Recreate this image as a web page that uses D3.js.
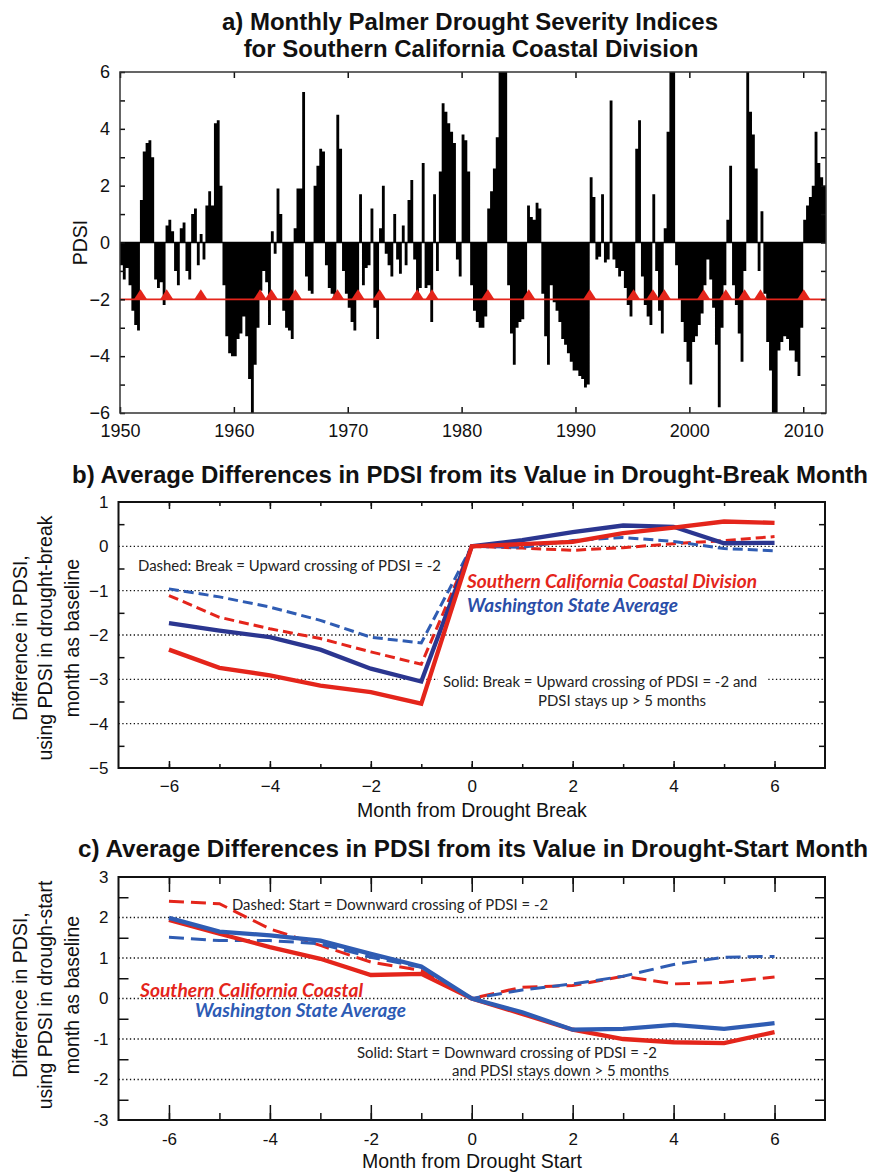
<!DOCTYPE html>
<html>
<head>
<meta charset="utf-8">
<title>PDSI Southern California Coastal Division</title>
<script src="https://d3js.org/d3.v7.min.js"></script>
<style type="text/css">
  body { margin: 0; background: #fff; }
  svg text { font-family: "Liberation Sans", Arial, Helvetica, sans-serif; fill: #111; }
  .title { font-weight: bold; font-size: 24px; }
  .axis-title { font-size: 19.5px; }
  .note { font-family: Lato, "Noto Sans", sans-serif; font-size: 14.5px; }
  .legend { font-family: Lato, "Noto Sans", sans-serif; font-weight: bold; font-style: italic; font-size: 18px; }
  .grid { stroke: #111; stroke-width: 1.3px; stroke-dasharray: 1.3,2.5; }
  .tick line { stroke: #111; stroke-width: 1.5px; }
</style>
</head>
<body>
<div id="chart"></div>
<script type="text/javascript">

var pdsiFirstYear = 1950;
var pdsiQuarterly = [
  -0.8, -1.3, -0.9, -1.5,   // 1950
  -2.4, -2.9, -3.1,  1.5,   // 1951
   3.2,  3.5,  3.6,  3.0,   // 1952
  -1.3, -1.6, -1.4, -2.2,   // 1953
   0.6,  0.8,  0.4, -1.0,   // 1954
  -1.5,  0.5,  0.7, -1.0,   // 1955
  -1.3,  1.0,  1.2, -0.8,   // 1956
   0.3, -0.6,  1.3,  1.8,   // 1957
   1.3,  4.2,  4.3,  2.0,   // 1958
  -1.5, -3.3, -3.9, -4.0,   // 1959
  -4.0, -3.4, -3.2, -2.6,   // 1960
  -3.3, -4.8, -6.0, -4.3,   // 1961
  -3.0, -1.7, -1.0, -1.4,   // 1962
  -2.9,  0.4, -0.4,  1.9,   // 1963
   1.0, -2.4, -3.0, -3.1,   // 1964
  -3.4,  0.5,  1.9,  1.9,   // 1965
   5.3, -1.2, -1.7, -1.8,   // 1966
   2.0,  2.7,  3.3,  3.2,   // 1967
  -0.8, -1.6, -1.8, -1.9,   // 1968
   4.5,  3.3, -1.0, -1.8,   // 1969
  -2.3, -2.8, -3.1, -2.0,   // 1970
   1.7, -1.5, -0.9, -0.8,   // 1971
   1.2, -2.3, -3.4,  0.5,   // 1972
   2.0, -0.4, -0.8, -1.2,   // 1973
   1.0, -0.6, -1.1,  0.6,   // 1974
  -0.8,  1.5,  2.2, -0.6,   // 1975
  -2.0, -1.6,  2.8, -1.6,   // 1976
  -1.5, -2.8,  1.7, -1.0,   // 1977
   2.5,  4.9,  4.6,  4.2,   // 1978
   3.9,  3.5, -0.6, -1.2,   // 1979
   3.8,  3.6,  2.5, -1.5,   // 1980
  -2.4, -2.8, -3.0, -3.0,   // 1981
  -2.6,  1.2,  1.8,  2.6,   // 1982
   3.7,  6.2,  6.2,  6.2,   // 1983
  -1.5, -3.2, -4.3, -3.0,   // 1984
  -2.8, -2.7, -2.0,  1.3,   // 1985
   0.9,  0.8,  1.4,  1.2,   // 1986
  -1.8, -3.3, -4.3, -1.5,   // 1987
  -2.1, -2.4, -2.8, -3.4,   // 1988
  -3.6, -3.9, -4.2, -4.5,   // 1989
  -4.5, -4.7, -4.8, -5.1,   // 1990
  -5.0,  2.3,  1.6, -0.6,   // 1991
  -0.5,  1.7, -0.7, -0.6,   // 1992
   5.0, -0.6, -0.9, -1.2,   // 1993
  -1.0, -1.6, -2.2, -2.6,   // 1994
  -2.0,  3.3,  4.3, -1.2,   // 1995
  -2.2, -2.6, -2.9,  1.7,   // 1996
  -1.0, -2.4, -3.2,  0.5,   // 1997
   3.9,  6.2,  6.2, -0.8,   // 1998
  -2.0, -2.8, -3.5, -4.2,   // 1999
  -5.0, -3.5, -3.3, -2.9,   // 2000
  -2.5, -1.5, -0.6, -1.3,   // 2001
  -2.3, -3.6, -5.8, -3.0,   // 2002
  -1.5,  0.8,  2.7, -1.5,   // 2003
  -2.2, -3.2, -4.2, -1.0,   // 2004
   6.2,  4.6,  3.8,  2.6,   // 2005
  -1.0,  1.1, -1.8, -3.5,   // 2006
  -4.5, -6.0, -6.0, -3.8,   // 2007
  -3.5, -3.3, -3.4, -3.8,   // 2008
  -3.8, -4.2, -4.7, -3.0,   // 2009
   0.8,  1.3,  1.6,  2.0,   // 2010
   3.9,  2.8,  2.3,  2.0    // 2011
];
// drought-break markers (red triangles on PDSI = -2)
var breakMarkYears = [1951.8, 1954.1, 1957.1, 1962.3, 1963.3, 1965.4, 1969.1, 1970.9,
                      1972.8, 1976.1, 1977.4, 1982.3, 1985.9, 1991.25, 1995.1, 1996.8,
                      1997.8, 2001.25, 2003.2, 2004.85, 2006.25, 2010.05];
var decadeTicks = [1950, 1960, 1970, 1980, 1990, 2000, 2010];

// ---------- data: panels b and c ----------
var monthOffsets = [-6, -5, -4, -3, -2, -1, 0, 1, 2, 3, 4, 5, 6];

var breakSocalSolid  = [-2.33, -2.74, -2.91, -3.14, -3.29, -3.55, 0, 0.05, 0.10, 0.30, 0.42, 0.56, 0.53];
var breakSocalDashed = [-1.11, -1.60, -1.86, -2.08, -2.38, -2.66, 0, -0.04, -0.09, -0.03, 0.06, 0.13, 0.22];
var breakWashSolid   = [-1.73, -1.90, -2.05, -2.33, -2.76, -3.05, 0, 0.14, 0.32, 0.47, 0.44, 0.07, 0.08];
var breakWashDashed  = [-0.96, -1.14, -1.37, -1.67, -2.05, -2.18, 0, -0.02, 0.13, 0.20, 0.11, -0.05, -0.10];

var startSocalSolid  = [1.94, 1.60, 1.27, 0.98, 0.58, 0.61, 0, -0.38, -0.77, -1.00, -1.08, -1.10, -0.83];
var startSocalDashed = [2.40, 2.34, 1.72, 1.31, 0.90, 0.69, 0, 0.28, 0.32, 0.55, 0.36, 0.40, 0.53];
var startWashSolid   = [1.99, 1.65, 1.56, 1.43, 1.10, 0.79, 0, -0.34, -0.77, -0.75, -0.65, -0.75, -0.61];
var startWashDashed  = [1.51, 1.43, 1.43, 1.35, 1.02, 0.77, 0, 0.21, 0.36, 0.55, 0.84, 1.02, 1.04];

var breakGrid = [0, -1, -2, -3, -4];
var startGrid = [2, 1, 0, -1, -2];

var red = "#e4251b",
    navy = "#2b3690",
    blue = "#2f5cb3";

var width = 873,
    height = 1173;

var svg = d3.select("#chart")
    .append("svg")
    .attr("width", width)
    .attr("height", height);

function cleanAxis(g, fontSize) {
    g.select(".domain").remove();
    g.selectAll(".tick text").style("font-size", fontSize + "px").attr("fill", "#111");
}

// =============== panel a ===============
var xA = d3.scaleLinear().domain([1950, 2012]).range([120, 826]);
var yA = d3.scaleLinear().domain([-6, 6]).range([413, 72]);

svg.append("text").attr("class", "title")
    .attr("x", 470).attr("y", 30).attr("text-anchor", "middle")
    .text("a) Monthly Palmer Drought Severity Indices");
svg.append("text").attr("class", "title")
    .attr("x", 471).attr("y", 57).attr("text-anchor", "middle")
    .text("for Southern California Coastal Division");

svg.append("clipPath").attr("id", "clipA")
  .append("rect")
    .attr("x", xA(1950)).attr("y", yA(6))
    .attr("width", xA(2012) - xA(1950)).attr("height", yA(-6) - yA(6));

var pdsiPoints = pdsiQuarterly.map(function(v, i) { return { t: pdsiFirstYear + i / 4, v: v }; });
pdsiPoints.push({ t: 2012, v: pdsiQuarterly[pdsiQuarterly.length - 1] });

var areaA = d3.area()
    .curve(d3.curveStepAfter)
    .x(function(d) { return xA(d.t); })
    .y0(yA(0))
    .y1(function(d) { return yA(d.v); });

var gA = svg.append("g").attr("id", "panelA");

gA.append("path")
    .datum(pdsiPoints)
    .attr("clip-path", "url(#clipA)")
    .attr("d", areaA)
    .attr("fill", "#000");

gA.append("line")
    .attr("x1", xA(1950)).attr("x2", xA(2012))
    .attr("y1", yA(0)).attr("y2", yA(0))
    .attr("stroke", "#000").attr("stroke-width", 1.5);

gA.append("line")
    .attr("x1", xA(1950)).attr("x2", xA(2012))
    .attr("y1", yA(-2)).attr("y2", yA(-2))
    .attr("stroke", red).attr("stroke-width", 1.6);

gA.selectAll("path.mark")
    .data(breakMarkYears)
    .enter()
    .append("path")
    .attr("class", "mark")
    .attr("d", function(d) {
        var cx = xA(d), cy = yA(-2);
        return "M" + (cx - 6.5) + "," + cy + "L" + cx + "," + (cy - 10) + "L" + (cx + 6.5) + "," + cy + "Z";
    })
    .attr("fill", red);

gA.append("g").attr("transform", "translate(0," + yA(-6) + ")")
    .call(d3.axisBottom(xA).tickValues(decadeTicks).tickFormat(d3.format("d"))
        .tickSizeInner(-6).tickSizeOuter(0).tickPadding(11))
    .call(cleanAxis, 18);
gA.append("g").attr("transform", "translate(0," + yA(6) + ")")
    .call(d3.axisTop(xA).tickValues(decadeTicks).tickFormat("")
        .tickSizeInner(-6).tickSizeOuter(0))
    .call(cleanAxis, 18);
gA.append("g").attr("transform", "translate(" + xA(1950) + ",0)")
    .call(d3.axisLeft(yA).tickValues(d3.range(-6, 7))
        .tickFormat(function(d) { return d % 2 === 0 ? d3.format("d")(d) : ""; })
        .tickSizeInner(-5).tickSizeOuter(0).tickPadding(10))
    .call(cleanAxis, 18);
gA.append("g").attr("transform", "translate(" + xA(2012) + ",0)")
    .call(d3.axisRight(yA).tickValues(d3.range(-6, 7)).tickFormat("")
        .tickSizeInner(-5).tickSizeOuter(0))
    .call(cleanAxis, 18);

gA.append("rect")
    .attr("x", xA(1950)).attr("y", yA(6))
    .attr("width", xA(2012) - xA(1950)).attr("height", yA(-6) - yA(6))
    .attr("fill", "none").attr("stroke", "#333").attr("stroke-width", 1.5);

gA.append("text").attr("class", "axis-title")
    .attr("transform", "translate(87," + yA(0) + ") rotate(-90)")
    .attr("text-anchor", "middle")
    .text("PDSI");

// =============== panels b and c ===============
function monthPanel(p) {
    var x = d3.scaleLinear().domain([-7, 7]).range([118.5, 825]);
    var y = d3.scaleLinear().domain(p.yDomain).range(p.yRange);
    var g = svg.append("g");
    var y0 = p.yDomain[0], y1 = p.yDomain[1];

    svg.append("clipPath").attr("id", p.id + "clip")
      .append("rect")
        .attr("x", x(-7)).attr("y", y(y1))
        .attr("width", x(7) - x(-7)).attr("height", y(y0) - y(y1));

    g.append("text").attr("class", "title")
        .attr("x", p.titleX).attr("y", p.titleY)
        .attr("textLength", p.titleLength).attr("lengthAdjust", "spacingAndGlyphs")
        .text(p.title);

    g.selectAll("line.grid")
        .data(p.grid)
        .enter()
        .append("line")
        .attr("class", "grid")
        .attr("x1", x(-7)).attr("x2", x(7))
        .attr("y1", function(d) { return y(d); })
        .attr("y2", function(d) { return y(d); });

    if (p.noteMask) {
        g.append("rect")
            .attr("x", p.noteMask[0]).attr("y", y(p.noteMask[2]) - 6)
            .attr("width", p.noteMask[1] - p.noteMask[0]).attr("height", 12)
            .attr("fill", "#fff");
    }

    var line = d3.line()
        .x(function(d, i) { return x(monthOffsets[i]); })
        .y(function(d) { return y(d); });

    var lines = g.append("g").attr("clip-path", "url(#" + p.id + "clip)");
    p.series.forEach(function(s) {
        lines.append("path")
            .datum(s.values)
            .attr("d", line)
            .attr("fill", "none")
            .attr("stroke", s.color)
            .attr("stroke-width", s.dashed ? 3 : 4.3)
            .attr("stroke-dasharray", s.dashed ? p.dash : null)
            .attr("stroke-linejoin", "miter");
    });

    var months = d3.range(-6, 7),
        evens = months.filter(function(d) { return d % 2 === 0; }),
        halves = d3.range(y0 + 0.5, y1, 1);

    g.append("g").attr("transform", "translate(0," + y(y0) + ")")
        .call(d3.axisBottom(x).tickValues(months).tickFormat("")
            .tickSizeInner(-p.minorTick).tickSizeOuter(0))
        .call(cleanAxis, 17);
    g.append("g").attr("transform", "translate(0," + y(y0) + ")")
        .call(d3.axisBottom(x).tickValues(evens).tickFormat(p.fmt)
            .tickSizeInner(-p.majorTick).tickSizeOuter(0).tickPadding(p.xPad))
        .call(cleanAxis, 17);
    g.append("g").attr("transform", "translate(0," + y(y1) + ")")
        .call(d3.axisTop(x).tickValues(months).tickFormat("")
            .tickSizeInner(-p.minorTick).tickSizeOuter(0))
        .call(cleanAxis, 17);
    g.append("g").attr("transform", "translate(0," + y(y1) + ")")
        .call(d3.axisTop(x).tickValues(evens).tickFormat("")
            .tickSizeInner(-p.majorTick).tickSizeOuter(0))
        .call(cleanAxis, 17);

    g.append("g").attr("transform", "translate(" + x(-7) + ",0)")
        .call(d3.axisLeft(y).tickValues(d3.range(y0, y1 + 1)).tickFormat(p.fmt)
            .tickSize(0).tickPadding(10))
        .call(cleanAxis, 17);
    g.append("g").attr("transform", "translate(" + x(-7) + ",0)")
        .call(d3.axisLeft(y).tickValues(halves).tickFormat("")
            .tickSizeInner(-p.yTick).tickSizeOuter(0))
        .call(cleanAxis, 17);
    g.append("g").attr("transform", "translate(" + x(7) + ",0)")
        .call(d3.axisRight(y).tickValues(halves).tickFormat("")
            .tickSizeInner(-p.yTick).tickSizeOuter(0))
        .call(cleanAxis, 17);

    g.append("rect")
        .attr("x", x(-7)).attr("y", y(y1))
        .attr("width", x(7) - x(-7)).attr("height", y(y0) - y(y1))
        .attr("fill", "none").attr("stroke", "#111").attr("stroke-width", 2);

    g.append("text").attr("class", "axis-title")
        .attr("x", 472).attr("y", p.xTitleY).attr("text-anchor", "middle")
        .text(p.xTitle);

    p.yTitle.forEach(function(t, i) {
        g.append("text").attr("class", "axis-title")
            .attr("transform", "translate(" + [27, 52, 79][i] + "," + p.yTitleMid + ") rotate(-90)")
            .attr("text-anchor", "middle")
            .text(t);
    });

    p.texts.forEach(function(t) {
        g.append("text")
            .attr("class", t.cls)
            .attr("x", t.x).attr("y", t.y)
            .attr("textLength", t.len).attr("lengthAdjust", "spacingAndGlyphs")
            .style("fill", t.color || "#222")
            .text(t.text);
    });
}

monthPanel({
    id: "b",
    yDomain: [-5, 1], yRange: [768, 502],
    title: "b) Average Differences in PDSI from its Value in Drought-Break Month",
    titleX: 72, titleY: 483, titleLength: 796,
    grid: breakGrid,
    noteMask: [438, 766, -3],
    dash: "10,5",
    minorTick: 4, majorTick: 7, yTick: 6, xPad: 12,
    fmt: d3.format("d"),
    series: [
        { values: breakSocalDashed, color: red, dashed: true },
        { values: breakWashDashed, color: blue, dashed: true },
        { values: breakWashSolid, color: navy, dashed: false },
        { values: breakSocalSolid, color: red, dashed: false }
    ],
    xTitle: "Month from Drought Break", xTitleY: 817,
    yTitle: ["Difference in PDSI,", "using PDSI in drought-break", "month as baseline"],
    yTitleMid: 638,
    texts: [
        { cls: "note", x: 138, y: 571, len: 303, text: "Dashed: Break = Upward crossing of PDSI = -2" },
        { cls: "legend", x: 467, y: 588, len: 290, color: red, text: "Southern California Coastal Division" },
        { cls: "legend", x: 467, y: 612, len: 211, color: "#2a4ea8", text: "Washington State Average" },
        { cls: "note", x: 443, y: 687, len: 314, text: "Solid: Break = Upward crossing of PDSI = -2 and" },
        { cls: "note", x: 538, y: 706, len: 168, text: "PDSI stays up > 5 months" }
    ]
});

monthPanel({
    id: "c",
    yDomain: [-3, 3], yRange: [1120, 877],
    title: "c) Average Differences in PDSI from its Value in Drought-Start Month",
    titleX: 78, titleY: 857, titleLength: 790,
    grid: startGrid,
    noteMask: null,
    dash: "15,7",
    minorTick: 7, majorTick: 15, yTick: 10, xPad: 13,
    fmt: function(d) { return d < 0 ? "-" + Math.abs(d) : String(d); },
    series: [
        { values: startSocalDashed, color: red, dashed: true },
        { values: startWashDashed, color: blue, dashed: true },
        { values: startSocalSolid, color: red, dashed: false },
        { values: startWashSolid, color: blue, dashed: false }
    ],
    xTitle: "Month from Drought Start", xTitleY: 1168,
    yTitle: ["Difference in PDSI,", "using PDSI in drough-start", "month as baseline"],
    yTitleMid: 995,
    texts: [
        { cls: "note", x: 232, y: 910, len: 316, text: "Dashed: Start = Downward crossing of PDSI = -2" },
        { cls: "legend", x: 140, y: 997, len: 223, color: red, text: "Southern California Coastal" },
        { cls: "legend", x: 195, y: 1017, len: 211, color: "#2d5bb4", text: "Washington State Average" },
        { cls: "note", x: 357, y: 1058, len: 300, text: "Solid: Start = Downward crossing of PDSI = -2" },
        { cls: "note", x: 452, y: 1076, len: 217, text: "and PDSI stays down > 5 months" }
    ]
});

</script>
</body>
</html>
